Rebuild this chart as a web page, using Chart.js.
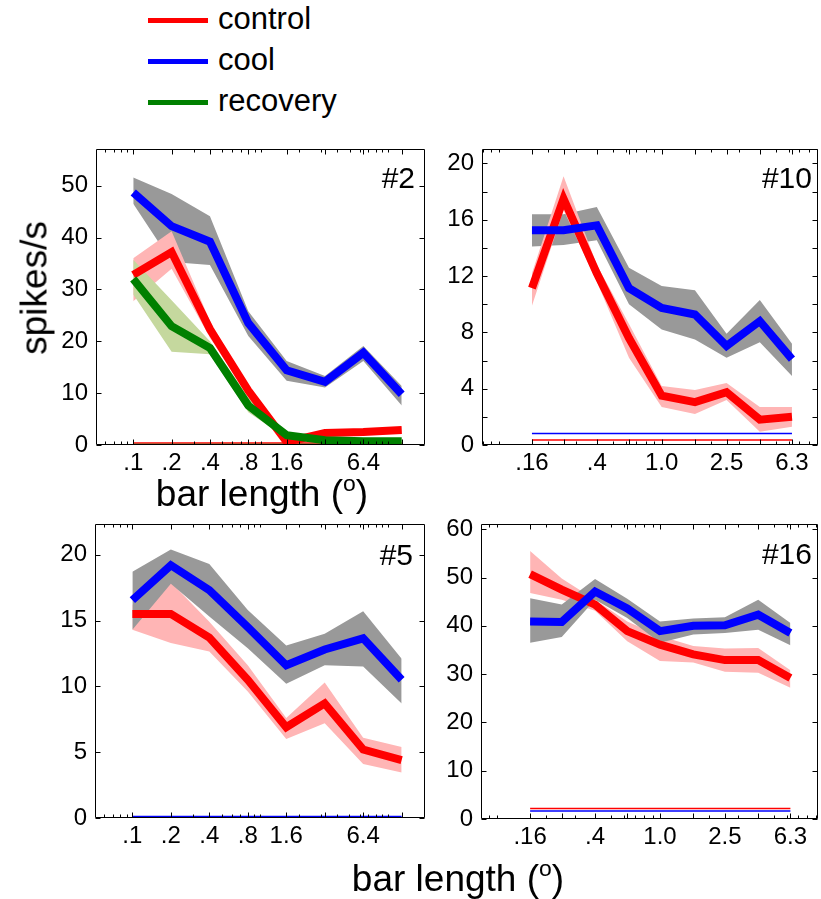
<!DOCTYPE html>
<html>
<head>
<meta charset="utf-8">
<script src="https://cdn.jsdelivr.net/npm/chart.js@4.4.1/dist/chart.umd.min.js"></script>
<style>
  html, body { margin: 0; padding: 0; background: #fff; }
  body { width: 821px; height: 899px; position: relative; overflow: hidden;
         font-family: "Liberation Sans", Arial, Helvetica, sans-serif; color: #000; }
  canvas { position: absolute; }
  .key { position: absolute; left: 148px; width: 60px; height: 5px; }
  .lab { position: absolute; left: 218px; font-size: 31px; line-height: 31px; white-space: nowrap; }
  .tag { position: absolute; font-size: 30px; line-height: 30px; text-align: right; width: 80px; }
  .axt { position: absolute; font-size: 37px; line-height: 37px; white-space: nowrap; transform: translate(-50%, -50%); }
  .axt sup { font-size: 0.62em; vertical-align: 0.62em; line-height: 0; }
</style>
</head>
<body>

<!-- legend -->
<div class="key" style="top:18px;background:#ff0000"></div>
<div class="lab" style="top:3px">control</div>
<div class="key" style="top:59px;background:#0000ff"></div>
<div class="lab" style="top:44px">cool</div>
<div class="key" style="top:100px;background:#008000"></div>
<div class="lab" style="top:85px">recovery</div>

<canvas id="c2"></canvas>
<canvas id="c10"></canvas>
<canvas id="c5"></canvas>
<canvas id="c16"></canvas>

<div class="tag" style="left:335px;top:163px">#2</div>
<div class="tag" style="left:732px;top:163px">#10</div>
<div class="tag" style="left:333px;top:540px">#5</div>
<div class="tag" style="left:732px;top:539px">#16</div>

<div class="axt" style="left:34px;top:288px;transform:translate(-50%,-50%) rotate(-90deg)">spikes/s</div>
<div class="axt" style="left:262px;top:493px">bar length (<sup>o</sup>)</div>
<div class="axt" style="left:458px;top:878px">bar length (<sup>o</sup>)</div>

<script>
// ---- bar lengths (deg) and tick labels ----
const lengthsA = [0.1, 0.2, 0.4, 0.8, 1.6, 3.2, 6.4, 12.8];
const lengthsB = [0.16, 0.25, 0.4, 0.63, 1.0, 1.6, 2.5, 4.0, 6.3];
const tickLabelsA = ['.1', '.2', '.4', '.8', '1.6', '', '6.4', ''];
const tickLabelsB = ['.16', '', '.4', '', '1.0', '', '2.5', '', '6.3'];

// ---- y ticks ----
const yTicks2 = [0, 10, 20, 30, 40, 50];
const yTicks10 = [0, 4, 8, 12, 16, 20];
const yMinor10 = [2, 6, 10, 14, 18];
const yTicks5 = [0, 5, 10, 15, 20];
const yTicks16 = [0, 10, 20, 30, 40, 50, 60];

// ---- unit #2 (spikes/s, mean and +/- SEM) ----
const u2Control   = [32.8, 37.2, 22.3, 10.5, 0.6, 2.3, 2.5, 2.9];
const u2ControlHi = [36.0, 41.2, 23.9, 11.1, 0.9, 2.9, 3.1, 3.5];
const u2ControlLo = [27.7, 34.0, 20.7, 9.5, 0.2, 1.7, 1.9, 2.3];
const u2Cool      = [48.7, 42.2, 39.2, 23.5, 14.4, 12.2, 17.8, 9.8];
const u2CoolHi    = [51.6, 48.4, 44.1, 25.8, 16.2, 13.3, 19.1, 11.4];
const u2CoolLo    = [46.5, 35.3, 34.7, 21.0, 12.4, 11.1, 16.2, 7.6];
const u2Recov     = [32.0, 22.9, 18.7, 7.6, 1.9, 0.9, 0.7, 0.7];
const u2RecovHi   = [35.7, 27.9, 20.0, 9.2, 2.5, 1.2, 1.0, 1.0];
const u2RecovLo   = [29.0, 18.0, 17.5, 6.3, 1.3, 0.5, 0.4, 0.4];
const u2Spont     = [0.4, null, 0.1];   // control, cool, recovery

// ---- unit #10 ----
const u10Control   = [11.15, 17.5, 12.2, 7.6, 3.5, 3.05, 3.75, 1.8, 2.0];
const u10ControlHi = [12.2, 19.1, 12.8, 8.6, 4.2, 3.9, 4.4, 2.7, 2.7];
const u10ControlLo = [9.9, 16.7, 11.6, 6.2, 2.7, 2.2, 3.2, 0.95, 1.3];
const u10Cool      = [15.26, 15.26, 15.6, 11.15, 9.74, 9.27, 7.04, 8.8, 6.1];
const u10CoolHi    = [16.4, 16.4, 16.9, 12.6, 11.3, 11.0, 7.9, 10.3, 7.2];
const u10CoolLo    = [14.1, 14.2, 14.55, 10.0, 8.2, 7.5, 6.2, 7.3, 4.9];
const u10Spont     = [0.35, 0.82];

// ---- unit #5 ----
const u5Control   = [15.5, 15.5, 13.7, 10.5, 6.9, 8.7, 5.2, 4.4];
const u5ControlHi = [16.2, 17.9, 14.9, 11.6, 7.6, 10.3, 6.1, 5.4];
const u5ControlLo = [14.3, 13.3, 12.65, 9.6, 6.0, 7.2, 4.1, 3.45];
const u5Cool      = [16.55, 19.2, 17.3, 14.5, 11.6, 12.8, 13.65, 10.5];
const u5CoolHi    = [18.7, 20.4, 19.3, 15.8, 13.1, 14.0, 15.7, 12.1];
const u5CoolLo    = [14.3, 17.8, 15.3, 12.9, 10.2, 11.6, 11.5, 8.7];
const u5Spont     = [0.02, 0.12];

// ---- unit #16 ----
const u16Control   = [50.7, 47.5, 44.4, 38.9, 36.1, 34.1, 32.9, 32.9, 29.2];
const u16ControlHi = [55.5, 49.8, 45.4, 40.9, 37.9, 35.8, 35.3, 35.4, 30.8];
const u16ControlLo = [46.8, 45.4, 43.1, 36.8, 32.7, 32.4, 30.5, 30.3, 27.2];
const u16Cool      = [40.9, 40.8, 47.1, 43.6, 38.9, 40.0, 40.1, 42.3, 38.5];
const u16CoolHi    = [45.7, 44.4, 49.7, 45.6, 40.9, 41.5, 41.8, 45.4, 40.6];
const u16CoolLo    = [36.5, 37.7, 45.4, 41.6, 36.5, 38.2, 38.5, 39.2, 36.0];
const u16Spont     = [2.2, 1.65];

// ---- colours ----
const RED = '#ff0000', BLUE = '#0000ff', GREEN = '#008000';
const PINK = '#ffb5b5', GREY = '#999999', SAGE = '#c5d89e';

const pts = (xs, ys) => xs.map((x, i) => ({ x, y: ys[i] }));

function band(xs, hi, lo, color, order) {
  return [
    { data: pts(xs, hi), fill: '+1', backgroundColor: color, borderWidth: 0, pointRadius: 0, order },
    { data: pts(xs, lo), fill: false, borderWidth: 0, pointRadius: 0, order }
  ];
}
function curve(xs, ys, color, order) {
  return { data: pts(xs, ys), borderColor: color, borderWidth: 8, pointRadius: 0, fill: false,
           borderJoinStyle: 'miter', borderCapStyle: 'butt', order };
}
function spont(xs, v, color, order) {
  return { data: [{ x: xs[0], y: v }, { x: xs[xs.length - 1], y: v }], borderColor: color,
           borderWidth: 1.5, pointRadius: 0, fill: false, order };
}

// minor log ticks (2..9 per decade) inside a range
function logMinor(min, max) {
  const out = [];
  for (let e = Math.floor(Math.log10(min)); e <= Math.ceil(Math.log10(max)); e++) {
    for (let m = 1; m <= 9; m++) {
      const v = m * Math.pow(10, e);
      if (v > min && v < max) out.push(v);
    }
  }
  return out;
}

// box with inward ticks on all four sides
const boxTicks = {
  id: 'boxTicks',
  afterDraw(chart, args, o) {
    const { ctx, chartArea: a, scales: { x, y } } = chart;
    const L = Math.round(a.left) + 0.5, R = Math.round(a.right) - 0.5;
    const T = Math.round(a.top) + 0.5, B = Math.round(a.bottom) - 0.5;
    ctx.save();
    ctx.strokeStyle = '#000';
    ctx.lineWidth = 1;
    ctx.beginPath();
    ctx.rect(L, T, R - L, B - T);
    const xt = (v, len) => {
      const p = Math.round(x.getPixelForValue(v)) + 0.5;
      ctx.moveTo(p, B); ctx.lineTo(p, B - len);
      ctx.moveTo(p, T); ctx.lineTo(p, T + len);
    };
    const yt = (v, len) => {
      const p = Math.round(y.getPixelForValue(v)) + 0.5;
      ctx.moveTo(L, p); ctx.lineTo(L + len, p);
      ctx.moveTo(R, p); ctx.lineTo(R - len, p);
    };
    o.xMinor.forEach(v => xt(v, 3));
    o.xMajor.forEach(v => xt(v, 5));
    o.yMajor.forEach(v => yt(v, 5));
    o.yMinor.forEach(v => yt(v, 5));
    ctx.stroke();
    ctx.restore();
  }
};

const PAD_L = 60, PAD_T = 20, PAD_R = 20, PAD_B = 45;

function panel(id, box, xs, xRange, xLabels, yMax, yMajor, yMinor, datasets) {
  const [l, t, r, b] = box;
  const cv = document.getElementById(id);
  cv.width = r - l + PAD_L + PAD_R;
  cv.height = b - t + PAD_T + PAD_B;
  cv.style.left = (l - PAD_L) + 'px';
  cv.style.top = (t - PAD_T) + 'px';
  const font = { family: '"Liberation Sans", Arial, sans-serif', size: 24 };
  new Chart(cv, {
    type: 'line',
    data: { datasets },
    options: {
      responsive: false, animation: false, devicePixelRatio: 1, events: [],
      layout: { padding: { left: 0, top: PAD_T, right: PAD_R, bottom: 0 } },
      elements: { line: { tension: 0 } },
      plugins: {
        legend: { display: false }, tooltip: { enabled: false },
        filler: { propagate: false },
        boxTicks: { xMajor: xs, xMinor: logMinor(xRange[0], xRange[1]), yMajor, yMinor }
      },
      scales: {
        x: {
          type: 'logarithmic', min: xRange[0], max: xRange[1],
          grid: { display: false, drawTicks: false }, border: { display: false },
          afterBuildTicks: s => { s.ticks = xs.map(v => ({ value: v })); },
          afterFit: s => { s.height = PAD_B; },
          ticks: { autoSkip: false, maxRotation: 0, minRotation: 0, padding: 4, color: '#000', font,
                   callback: (v, i) => xLabels[i] }
        },
        y: {
          type: 'linear', min: 0, max: yMax,
          grid: { display: false, drawTicks: false }, border: { display: false },
          afterBuildTicks: s => { s.ticks = yMajor.map(v => ({ value: v })); },
          afterFit: s => { s.width = PAD_L; },
          ticks: { autoSkip: false, padding: 8, color: '#000', font, callback: v => String(v) }
        }
      }
    },
    plugins: [boxTicks]
  });
}

// #2
panel('c2', [96, 147, 425, 445], lengthsA, [0.051, 19.5], tickLabelsA, 57, yTicks2, [], [
  ...band(lengthsA, u2CoolHi, u2CoolLo, GREY, 30),
  ...band(lengthsA, u2ControlHi, u2ControlLo, PINK, 29),
  ...band(lengthsA, u2RecovHi, u2RecovLo, SAGE, 28),
  spont(lengthsA, u2Spont[0], RED, 11),
  spont(lengthsA, u2Spont[2], GREEN, 10),
  curve(lengthsA, u2Control, RED, 3),
  curve(lengthsA, u2Cool, BLUE, 2),
  curve(lengthsA, u2Recov, GREEN, 1)
]);

// #10
panel('c10', [482, 147, 818, 445], lengthsB, [0.079, 9.1], tickLabelsB, 21, yTicks10, yMinor10, [
  ...band(lengthsB, u10CoolHi, u10CoolLo, GREY, 30),
  ...band(lengthsB, u10ControlHi, u10ControlLo, PINK, 29),
  spont(lengthsB, u10Spont[0], RED, 11),
  spont(lengthsB, u10Spont[1], BLUE, 10),
  curve(lengthsB, u10Control, RED, 3),
  curve(lengthsB, u10Cool, BLUE, 2)
]);

// #5
panel('c5', [95, 522, 425, 818], lengthsA, [0.051, 19.5], tickLabelsA, 22.3, yTicks5, [], [
  ...band(lengthsA, u5ControlHi, u5ControlLo, PINK, 30),
  ...band(lengthsA, u5CoolHi, u5CoolLo, GREY, 29),
  spont(lengthsA, u5Spont[0], RED, 11),
  spont(lengthsA, u5Spont[1], BLUE, 10),
  curve(lengthsA, u5Control, RED, 3),
  curve(lengthsA, u5Cool, BLUE, 2)
]);

// #16
panel('c16', [481, 522, 818, 819], lengthsB, [0.08, 9.3], tickLabelsB, 61, yTicks16, [], [
  ...band(lengthsB, u16ControlHi, u16ControlLo, PINK, 30),
  ...band(lengthsB, u16CoolHi, u16CoolLo, GREY, 29),
  spont(lengthsB, u16Spont[0], RED, 11),
  spont(lengthsB, u16Spont[1], BLUE, 10),
  curve(lengthsB, u16Control, RED, 3),
  curve(lengthsB, u16Cool, BLUE, 2)
]);
</script>
</body>
</html>
